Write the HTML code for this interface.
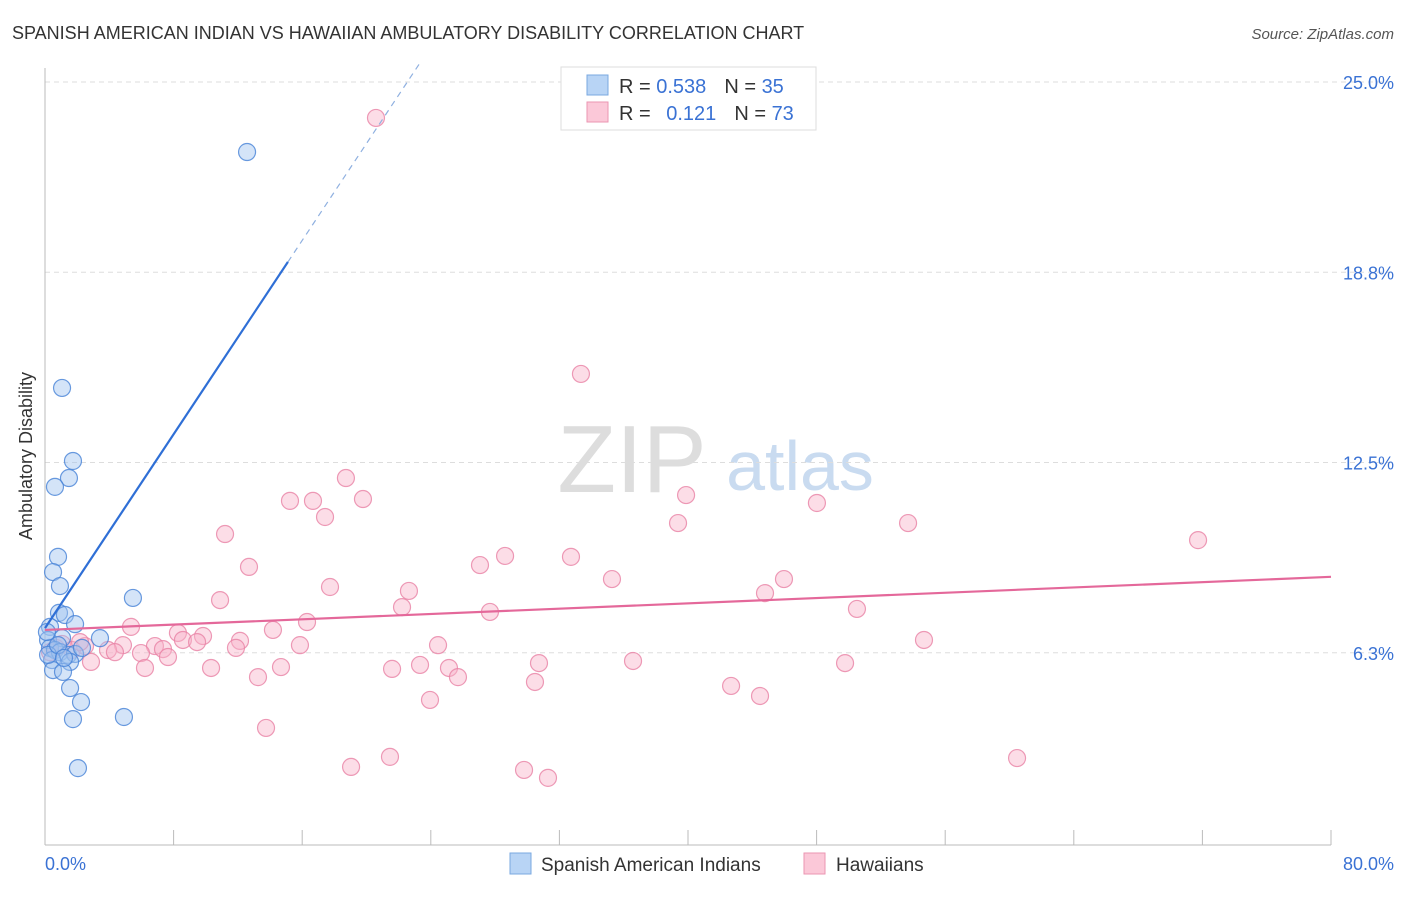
<!DOCTYPE html>
<html><head><meta charset="utf-8"><style>
body{margin:0;background:#fff;font-family:"Liberation Sans",sans-serif;}
svg text{font-family:"Liberation Sans",sans-serif;}
</style></head><body>
<svg id="chart" width="1406" height="892" xmlns="http://www.w3.org/2000/svg">
<text x="12" y="39" font-size="18" fill="#333">SPANISH AMERICAN INDIAN VS HAWAIIAN AMBULATORY DISABILITY CORRELATION CHART</text>
<text x="1394" y="39" font-size="15" fill="#555" font-style="italic" text-anchor="end">Source: ZipAtlas.com</text>
<text x="632" y="492" font-size="96" fill="#ddd" font-family="Liberation Serif" text-anchor="middle">ZIP</text>
<text x="800" y="490" font-size="70" fill="#c9dbf0" text-anchor="middle">atlas</text>
<g id="grid"></g>
<line x1="45" y1="68" x2="45" y2="845" stroke="#bbb"/>
<line x1="45" y1="845" x2="1331" y2="845" stroke="#bbb"/>
<g id="xticks"></g>
<text x="32" y="456" font-size="18" fill="#333" text-anchor="middle" transform="rotate(-90 32 456)">Ambulatory Disability</text>
<text x="45" y="870" font-size="18" fill="#3a72d4">0.0%</text>
<text x="1394" y="870" font-size="18" fill="#3a72d4" text-anchor="end">80.0%</text>
<g id="points"></g>
<g id="trends"></g>
<g>
<rect x="561" y="67" width="255" height="63" fill="#fff" stroke="#ddd"/>
<rect x="587" y="75" width="21" height="20" fill="#b8d4f5" stroke="#7aa8e0"/>
<rect x="587" y="102" width="21" height="20" fill="#fbc8d8" stroke="#eb96b2"/>
<text x="619" y="93" font-size="20" fill="#333">R = <tspan fill="#3a72d4">0.538</tspan><tspan dx="18" fill="#333">N = </tspan><tspan fill="#3a72d4">35</tspan></text>
<text x="619" y="120" font-size="20" fill="#333">R = <tspan dx="10" fill="#3a72d4">0.121</tspan><tspan dx="18" fill="#333">N = </tspan><tspan fill="#3a72d4">73</tspan></text>
</g>
<g>
<rect x="510" y="853" width="21" height="21" fill="#b8d4f5" stroke="#7aa8e0"/>
<text x="541" y="871" font-size="19" fill="#333">Spanish American Indians</text>
<rect x="804" y="853" width="21" height="21" fill="#fbc8d8" stroke="#eb96b2"/>
<text x="836" y="871" font-size="19" fill="#333">Hawaiians</text>
</g>
</svg>
<script>
const yTicks=[6.25,12.5,18.75,25];
const yTickLabels=["6.3%","12.5%","18.8%","25.0%"];
const xTicks=[0,8,16,24,32,40,48,56,64,72,80];
const blueX=[1.06,1.74,1.49,0.62,0.81,0.50,0.93,5.47,0.87,1.24,1.87,0.31,0.19,1.06,3.42,0.31,0.62,0.93,1.43,1.87,2.30,0.44,1.56,0.50,1.12,1.56,2.24,1.74,4.91,2.05,12.57,0.19,0.81,1.18,0.12];
const blueY=[14.95,12.55,11.99,11.70,9.40,8.90,8.44,8.05,7.56,7.49,7.19,7.10,6.67,6.73,6.73,6.41,6.34,6.27,6.18,6.21,6.41,6.01,5.95,5.68,5.62,5.09,4.63,4.07,4.14,2.46,22.70,6.18,6.50,6.08,6.93];
const pinkX=[20.59,33.34,18.72,15.24,16.67,19.78,17.42,39.88,39.38,48.02,53.69,71.73,11.20,12.69,10.89,28.62,32.72,27.06,17.73,22.64,35.27,45.97,44.79,22.21,27.68,50.51,16.30,5.35,8.27,14.18,9.83,8.58,9.46,12.13,11.88,15.86,24.45,54.68,6.84,7.34,4.85,3.92,4.35,5.97,7.65,2.86,6.22,10.33,14.68,21.59,23.33,25.13,25.69,30.73,36.58,49.77,13.25,30.48,42.68,44.48,23.95,13.75,21.46,19.04,29.80,31.29,60.47,0.68,1.06,1.68,2.49,0.31,2.18];
const pinkY=[23.82,15.41,11.99,11.24,11.24,11.30,10.71,11.43,10.51,11.17,10.51,9.95,10.15,9.07,7.98,9.43,9.40,9.13,8.41,8.28,8.67,8.67,8.21,7.75,7.59,7.69,7.26,7.10,6.90,7.00,6.80,6.67,6.60,6.64,6.41,6.50,6.50,6.67,6.47,6.37,6.50,6.34,6.27,6.24,6.11,5.95,5.75,5.75,5.78,5.72,5.85,5.75,5.45,5.91,5.98,5.91,5.45,5.29,5.16,4.83,4.70,3.78,2.83,2.50,2.40,2.14,2.79,6.41,6.54,6.34,6.47,6.27,6.60];
const blueTrend=[7.06,0.796];
const pinkTrend=[7.0,0.0218];
const NS="http://www.w3.org/2000/svg";
const X=v=>45+v*(1286/80);
const Y=v=>843-v*30.44;
function mk(tag,attrs,parent){const e=document.createElementNS(NS,tag);for(const k in attrs)e.setAttribute(k,attrs[k]);document.getElementById(parent).appendChild(e);return e;}
yTicks.forEach((t,i)=>{
 const l=mk('line',{x1:45,x2:1394,y1:Y(t),y2:Y(t),stroke:'#ddd','stroke-dasharray':'5,4'},'grid');
 
 
 const tx=mk('text',{x:1394,y:Y(t)+7,'font-size':18,fill:'#3a72d4','text-anchor':'end'},'grid');
 tx.textContent=yTickLabels[i];
 
 
});
xTicks.forEach(t=>{
 const l=mk('line',{x1:X(t),x2:X(t),y1:830,y2:845,stroke:'#bbb'},'xticks');
 
 
});
pinkX.forEach((v,i)=>{
 const c=mk('circle',{cx:X(v),cy:Y(pinkY[i]),r:8.5,fill:'rgba(248,180,202,0.45)',stroke:'rgba(232,130,165,0.8)','stroke-width':1.2},'points');
 
 
});
blueX.forEach((v,i)=>{
 const c=mk('circle',{cx:X(v),cy:Y(blueY[i]),r:8.5,fill:'rgba(160,196,240,0.45)',stroke:'rgba(70,130,215,0.8)','stroke-width':1.2},'points');
 
 
});
const bEnd=(19.09-blueTrend[0])/blueTrend[1];
const bDash=(25.6-blueTrend[0])/blueTrend[1];
const b1=mk('line',{x1:X(0),y1:Y(blueTrend[0]),x2:X(bEnd),y2:Y(blueTrend[0]+blueTrend[1]*bEnd),stroke:'#2f6fd6','stroke-width':2.2},'trends');


const b2=mk('line',{x1:X(bEnd),y1:Y(blueTrend[0]+blueTrend[1]*bEnd),x2:X(bDash),y2:Y(blueTrend[0]+blueTrend[1]*bDash),stroke:'#8fb0e0','stroke-width':1.2,'stroke-dasharray':'6,5'},'trends');


const p1=mk('line',{x1:X(0),y1:Y(pinkTrend[0]),x2:X(80),y2:Y(pinkTrend[0]+pinkTrend[1]*80),stroke:'#e4689a','stroke-width':2.2},'trends');


</script>
</body></html>
